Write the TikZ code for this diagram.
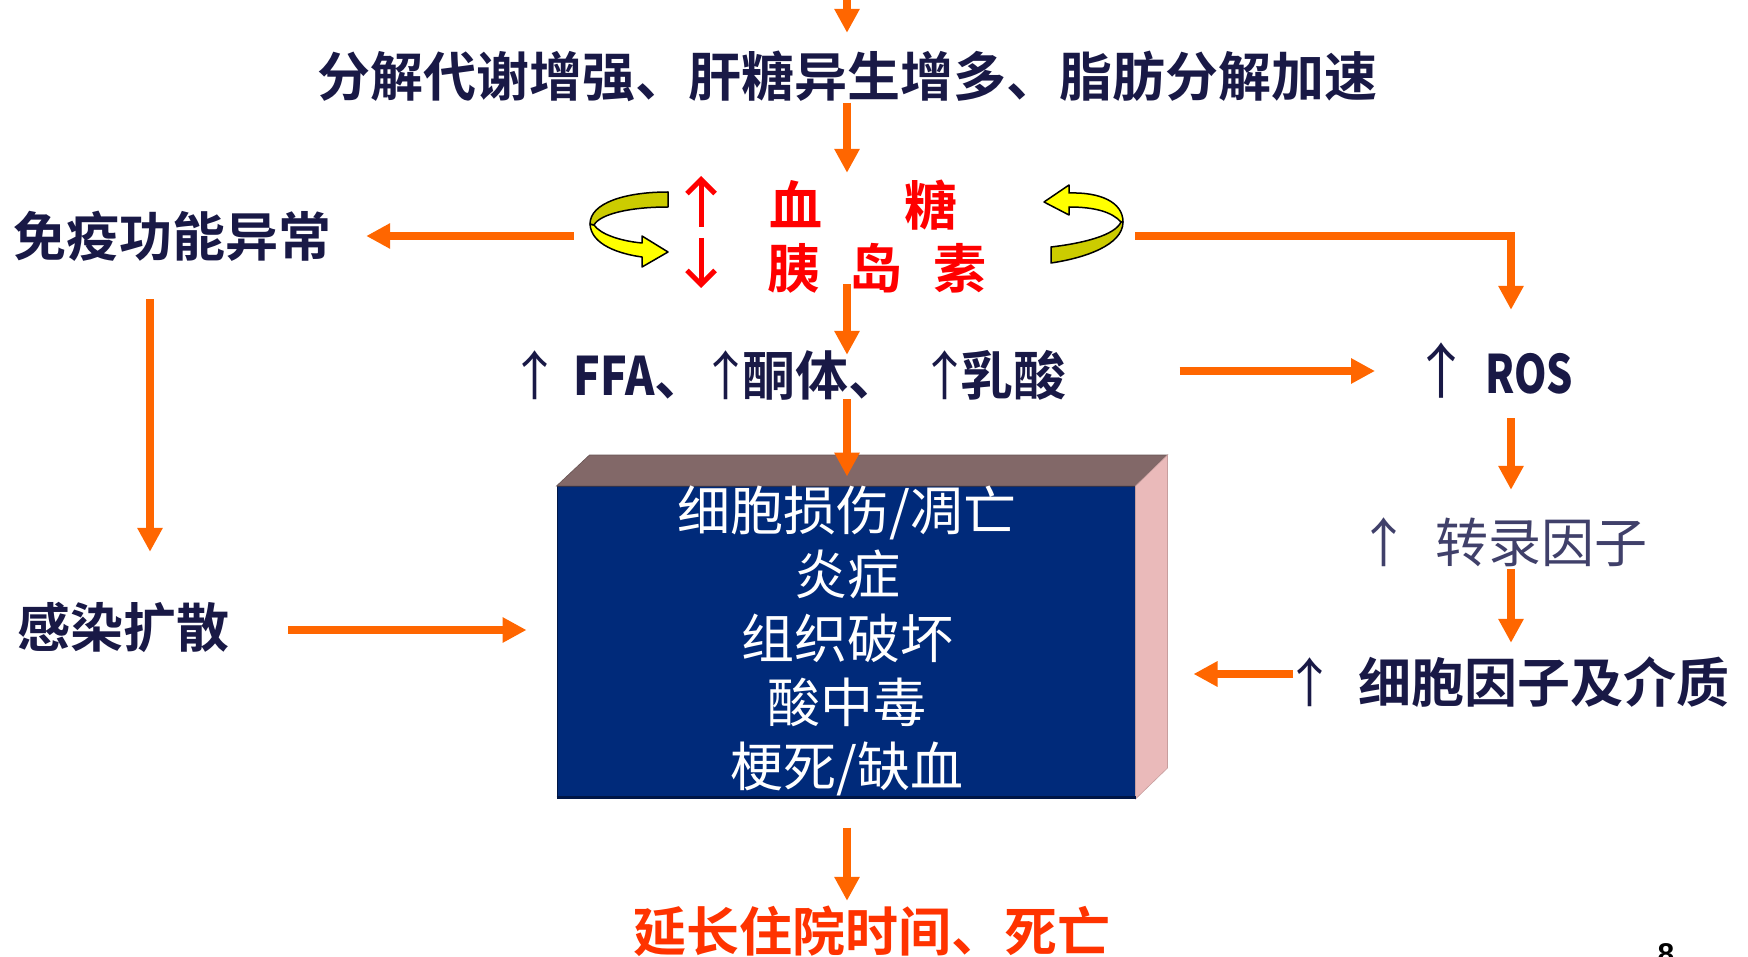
\documentclass[tikz,border=0pt]{standalone}
\usepackage{fontspec}
\usetikzlibrary{arrows.meta}
\newfontfamily\cjk{Noto Sans CJK SC}[BoldFont={Noto Sans CJK SC Bold}]
\newfontfamily\cjknarrow{Noto Sans CJK SC Bold}[FakeStretch=0.84]
\newfontfamily\cjknarrower{Noto Sans CJK SC Bold}[FakeStretch=0.78]
\newfontfamily\numfont{Liberation Sans}
\definecolor{navytxt}{RGB}{25,25,70}
\definecolor{tftxt}{RGB}{64,64,106}
\definecolor{arrorange}{RGB}{255,102,0}
\definecolor{outred}{RGB}{255,51,0}
\definecolor{boxfront}{RGB}{0,42,122}
\definecolor{boxedge}{RGB}{0,22,70}
\definecolor{boxtop}{RGB}{130,104,104}
\definecolor{boxside}{RGB}{234,186,186}
\definecolor{ribyel}{RGB}{255,255,0}
\definecolor{ribolive}{RGB}{204,204,0}
\newcommand\bigfs{\fontsize{53}{64}\selectfont}
\newcommand\uparr{{\mdseries ↑}}
\begin{document}
\begin{tikzpicture}[x=1pt,y=-1pt,
  lbl/.style={inner sep=0pt, text height=46.6pt, text depth=6.4pt, font=\cjk\bfseries\bigfs, text=navytxt},
  arr/.style={draw=arrorange, line width=8pt, -{Triangle[length=24pt,width=24pt]}},
  ribbon/.style={draw=black, line width=1.5pt, line join=round},
  redarr/.style={draw=red, line width=5pt, -{Straight Barb[length=14pt,width=28pt]}}]
\useasboundingbox (0,0) rectangle (1748,957);
\fill[white] (0,0) rectangle (1748,957);

% ---- nodes ----
\node[lbl] (title) at (847,76) {分解代谢增强、肝糖异生增多、脂肪分解加速};
\node[inner sep=0pt, minimum width=561pt, minimum height=111pt] (gl) at (854.5,228.5) {};
\node[lbl, text=red] (bs) at (863,205) {血\hspace{82pt}糖};
\node[lbl, text=red] (ins) at (877,268) {胰\hspace{29pt}岛\hspace{32pt}素};
\node[lbl] (imm) at (172,236) {免疫功能异常};
\node[lbl] (inf) at (123,627) {感染扩散};
\node[lbl, anchor=west] (ffa) at (508,375) {\uparr\hspace{12pt}{\cjknarrow FFA}、\hspace{-8pt}\uparr\hspace{-10pt}酮体、\hspace{17pt}\uparr\hspace{-11pt}乳酸};
\node[lbl, anchor=west] (ros) at (1411,373) {{\fontsize{60}{64}\selectfont\uparr}\hspace{14pt}{\cjknarrower ROS}};
\node[lbl, anchor=west, font=\cjk\bigfs, text=tftxt] (tf) at (1357,542) {↑\hspace{25pt}转录因子};
\node[lbl, anchor=west] (cyto) at (1283,682) {\uparr\hspace{22pt}细胞因子及介质};
\node[lbl, text=outred] (out) at (872,931) {延长住院时间、死亡};
\node[font=\numfont\bfseries\fontsize{30}{30}\selectfont, anchor=base, inner sep=0pt] (pg) at (1666,964) {8};
\coordinate (topin) at (847,-10);
\coordinate (rcol) at (1511,0);

% ---- 3D box ----
\node[inner sep=0pt, minimum width=578pt, minimum height=312pt, fill=boxfront, draw=boxedge, line width=1pt] (box) at (846,642.5) {};
\fill[boxtop, draw=boxtop!80!black, line width=0.6pt] (box.north west) -- ++(33,-31) -- ([shift={(32,-31)}]box.north east) -- (box.north east) -- cycle;
\fill[boxside, draw=boxside!85!black, line width=0.6pt] (box.north east) -- ++(32,-31) -- ([shift={(32,-31)}]box.south east) -- (box.south east) -- cycle;
\draw[boxedge, line width=3pt] ([yshift=1.5pt]box.south west) -- ([yshift=1.5pt]box.south east);
\node[inner sep=0pt, font=\cjk\bigfs, text=white, align=center] (boxtxt) at (847,641) {细胞损伤/凋亡\\炎症\\组织破坏\\酸中毒\\梗死/缺血};

% ---- ribbons ----
% left
\filldraw[ribbon, fill=ribyel] (590,224) .. controls (591,245) and (620,254) .. (642,257) -- (642,267) -- (668,252) -- (642,236) -- (642,243) .. controls (620,241) and (600,234) .. (594,225) -- cycle;
\filldraw[ribbon, fill=ribolive] (668,192) .. controls (625,192) and (590,203) .. (590,224) -- (594,225) .. controls (600,214) and (630,207) .. (668,207) -- cycle;
% right
\filldraw[ribbon, fill=ribolive] (1123,222) .. controls (1123,245) and (1085,258) .. (1051,263) -- (1051,247) .. controls (1085,243) and (1115,235) .. (1121,222) -- cycle;
\filldraw[ribbon, fill=ribyel] (1069,193) .. controls (1100,192) and (1123,202) .. (1123,222) -- (1121,222) .. controls (1112,212) and (1095,207) .. (1069,207) -- (1069,215) -- (1044,202) -- (1069,185) -- cycle;

% red up/down
\draw[redarr] (701,227) -- (701,176);
\draw[redarr] (701,238) -- (701,288);

% ---- connectors ----
\draw[arr, shorten >=16.5pt] (topin) -- (title.north);
\draw[arr] (title.south) -- (title.south |- gl.north);
\draw[arr, shorten >=-6.5pt] (title.south |- gl.south) -- (title.south |- ffa.north);
\draw[arr, shorten <=-2.5pt, shorten >=9.5pt] (title.south |- ffa.south) -- (title.south |- box.north);
\draw[arr, shorten <=28.5pt, shorten >=3.5pt] (title.south |- box.south) -- (title.south |- out.north);
\draw[arr, shorten >=35pt] (gl.west |- imm.east) -- (imm.east);
\draw[arr, shorten <=36.5pt, shorten >=48.5pt] ([xshift=-22pt]imm.south) -- ([xshift=-22pt]imm.south |- inf.north);
\draw[arr, shorten <=59pt, shorten >=30pt] ([yshift=-3pt]inf.east) -- ([yshift=-3pt]inf.east -| box.west);
\draw[arr, shorten >=36.5pt] (gl.east |- imm.east) -| (rcol |- ros.north);
\draw[arr, shorten <=113pt, shorten >=36pt] ([yshift=4pt]ffa.east) -- ([yshift=4pt]ffa.east -| ros.west);
\draw[arr, shorten <=18.5pt, shorten >=25.5pt] (rcol |- ros.south) -- (rcol |- tf.north);
\draw[arr, shorten <=0.5pt, shorten >=12.5pt] (rcol |- tf.south) -- (rcol |- cyto.north);
\draw[arr, shorten <=-10pt, shorten >=58pt] ([yshift=8pt]cyto.west) -- ([yshift=8pt]cyto.west -| box.east);
\end{tikzpicture}
\end{document}
